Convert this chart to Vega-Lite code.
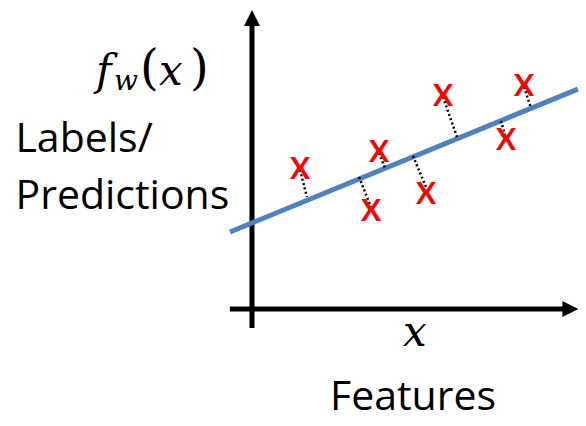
{
  "$schema": "https://vega.github.io/schema/vega-lite/v6.json",
  "width": 586,
  "height": 426,
  "autosize": "none",
  "padding": 0,
  "background": "white",
  "config": {"view": {"stroke": null}},
  "datasets": {
    "axes": [
      {"x1": 0, "y1": -0.63, "x2": 0, "y2": 9.6},
      {"x1": -0.68, "y1": 0, "x2": 9.6, "y2": 0}
    ],
    "arrows": [
      {"x": 0, "y": 9.7, "dir": "up"},
      {"x": 9.78, "y": 0, "dir": "right"}
    ],
    "fit": [
      {"x1": -0.676, "y1": 2.567, "x2": 10.01, "y2": 7.33}
    ],
    "residuals": [
      {"x1": 1.474, "y1": 4.633, "x2": 1.689, "y2": 3.733},
      {"x1": 3.287, "y1": 4.4, "x2": 3.655, "y2": 3.4},
      {"x1": 3.901, "y1": 5.2, "x2": 4.085, "y2": 4.7},
      {"x1": 4.945, "y1": 5.1, "x2": 5.345, "y2": 4.067},
      {"x1": 5.867, "y1": 7.067, "x2": 6.297, "y2": 5.733},
      {"x1": 7.648, "y1": 6.27, "x2": 7.802, "y2": 5.7},
      {"x1": 8.355, "y1": 7.4, "x2": 8.57, "y2": 6.7}
    ],
    "points": [
      {"x": 1.474, "y": 4.633},
      {"x": 3.655, "y": 3.233},
      {"x": 3.901, "y": 5.2},
      {"x": 5.345, "y": 3.8},
      {"x": 5.867, "y": 7.067},
      {"x": 7.802, "y": 5.6},
      {"x": 8.355, "y": 7.4}
    ],
    "labels": [
      {"x": -7.265, "y": 5.223, "t": "Labels/"},
      {"x": -7.265, "y": 3.333, "t": "Predictions"},
      {"x": 2.396, "y": -3.367, "t": "Features"}
    ],
    "mathItalic": [
      {"x": -4.792, "y": 7.467, "t": "f"},
      {"x": -2.857, "y": 7.467, "t": "x"},
      {"x": 4.638, "y": -1.233, "t": "x"}
    ],
    "mathSub": [
      {"x": -4.239, "y": 7.3, "t": "w"}
    ],
    "mathUpright": [
      {"x": -3.44, "y": 7.5, "t": "("},
      {"x": -1.904, "y": 7.5, "t": ")"}
    ]
  },
  "layer": [
    {
      "data": {"name": "axes"},
      "mark": {"type": "rule", "color": "black", "strokeWidth": 5},
      "encoding": {
        "x": {"field": "x1", "type": "quantitative", "scale": {"domain": [-7.74, 10.26], "nice": false, "zero": false}, "axis": null},
        "y": {"field": "y1", "type": "quantitative", "scale": {"domain": [-3.9, 10.3], "nice": false, "zero": false}, "axis": null},
        "x2": {"field": "x2"},
        "y2": {"field": "y2"}
      }
    },
    {
      "data": {"name": "arrows"},
      "mark": {"type": "point", "filled": true, "color": "black", "opacity": 1, "size": 256, "strokeWidth": 0},
      "encoding": {
        "x": {"field": "x", "type": "quantitative", "scale": {"domain": [-7.74, 10.26], "nice": false, "zero": false}, "axis": null},
        "y": {"field": "y", "type": "quantitative", "scale": {"domain": [-3.9, 10.3], "nice": false, "zero": false}, "axis": null},
        "shape": {"field": "dir", "type": "nominal", "scale": {"domain": ["up", "right"], "range": ["M-1,1L0,-1L1,1Z", "M-1,-1L1,0L-1,1Z"]}, "legend": null}
      }
    },
    {
      "data": {"name": "fit"},
      "mark": {"type": "rule", "color": "#4F81BD", "strokeWidth": 5},
      "encoding": {
        "x": {"field": "x1", "type": "quantitative", "scale": {"domain": [-7.74, 10.26], "nice": false, "zero": false}, "axis": null},
        "y": {"field": "y1", "type": "quantitative", "scale": {"domain": [-3.9, 10.3], "nice": false, "zero": false}, "axis": null},
        "x2": {"field": "x2"},
        "y2": {"field": "y2"}
      }
    },
    {
      "data": {"name": "residuals"},
      "mark": {"type": "rule", "color": "black", "strokeWidth": 2.5, "strokeDash": [2, 2.5]},
      "encoding": {
        "x": {"field": "x1", "type": "quantitative", "scale": {"domain": [-7.74, 10.26], "nice": false, "zero": false}, "axis": null},
        "y": {"field": "y1", "type": "quantitative", "scale": {"domain": [-3.9, 10.3], "nice": false, "zero": false}, "axis": null},
        "x2": {"field": "x2"},
        "y2": {"field": "y2"}
      }
    },
    {
      "data": {"name": "points"},
      "mark": {"type": "text", "text": "X", "font": "Lato", "fontWeight": "bold", "fontSize": 30, "color": "#FF0000", "align": "center", "baseline": "middle"},
      "encoding": {
        "x": {"field": "x", "type": "quantitative", "scale": {"domain": [-7.74, 10.26], "nice": false, "zero": false}, "axis": null},
        "y": {"field": "y", "type": "quantitative", "scale": {"domain": [-3.9, 10.3], "nice": false, "zero": false}, "axis": null}
      }
    },
    {
      "data": {"name": "labels"},
      "mark": {"type": "text", "font": "Open Sans", "fontSize": 41, "color": "black", "align": "left", "baseline": "alphabetic"},
      "encoding": {
        "x": {"field": "x", "type": "quantitative", "scale": {"domain": [-7.74, 10.26], "nice": false, "zero": false}, "axis": null},
        "y": {"field": "y", "type": "quantitative", "scale": {"domain": [-3.9, 10.3], "nice": false, "zero": false}, "axis": null},
        "text": {"field": "t"}
      }
    },
    {
      "data": {"name": "mathItalic"},
      "mark": {"type": "text", "font": "DejaVu Serif", "fontStyle": "italic", "fontSize": 42, "color": "black", "align": "left", "baseline": "alphabetic"},
      "encoding": {
        "x": {"field": "x", "type": "quantitative", "scale": {"domain": [-7.74, 10.26], "nice": false, "zero": false}, "axis": null},
        "y": {"field": "y", "type": "quantitative", "scale": {"domain": [-3.9, 10.3], "nice": false, "zero": false}, "axis": null},
        "text": {"field": "t"}
      }
    },
    {
      "data": {"name": "mathSub"},
      "mark": {"type": "text", "font": "DejaVu Serif", "fontStyle": "italic", "fontSize": 28, "color": "black", "align": "left", "baseline": "alphabetic"},
      "encoding": {
        "x": {"field": "x", "type": "quantitative", "scale": {"domain": [-7.74, 10.26], "nice": false, "zero": false}, "axis": null},
        "y": {"field": "y", "type": "quantitative", "scale": {"domain": [-3.9, 10.3], "nice": false, "zero": false}, "axis": null},
        "text": {"field": "t"}
      }
    },
    {
      "data": {"name": "mathUpright"},
      "mark": {"type": "text", "font": "DejaVu Serif", "fontSize": 48, "color": "black", "align": "left", "baseline": "alphabetic"},
      "encoding": {
        "x": {"field": "x", "type": "quantitative", "scale": {"domain": [-7.74, 10.26], "nice": false, "zero": false}, "axis": null},
        "y": {"field": "y", "type": "quantitative", "scale": {"domain": [-3.9, 10.3], "nice": false, "zero": false}, "axis": null},
        "text": {"field": "t"}
      }
    }
  ]
}
